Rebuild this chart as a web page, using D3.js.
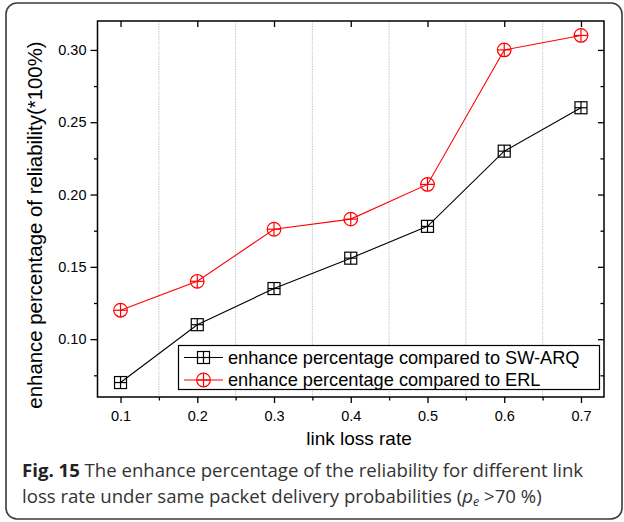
<!DOCTYPE html>
<html>
<head>
<meta charset="utf-8">
<script src="https://cdn.jsdelivr.net/npm/d3@7"></script>
<style>
  html, body { margin: 0; padding: 0; background: #fff; }
  svg { display: block; }
</style>
</head>
<body>
<svg id="chart" width="624" height="522"></svg>
<script>
const lossRates = [0.1, 0.2, 0.3, 0.4, 0.5, 0.6, 0.7];
const swArq = [0.07, 0.11, 0.135, 0.156, 0.178, 0.23, 0.26];
const erl = [0.12, 0.14, 0.176, 0.183, 0.207, 0.30, 0.31];
const xTicks = [0.1, 0.2, 0.3, 0.4, 0.5, 0.6, 0.7];
const xMinor = [0.15, 0.25, 0.35, 0.45, 0.55, 0.65];
const yTicks = [0.10, 0.15, 0.20, 0.25, 0.30];
const yMinor = [0.075, 0.125, 0.175, 0.225, 0.275];
const seriesNames = ["enhance percentage compared to SW-ARQ", "enhance percentage compared to ERL"];
const xTitle = "link loss rate";
const yTitle = "enhance percentage of reliability(*100%)";

const svg = d3.select("#chart");
const L = 97.5, R = 604, T = 21, B = 397;
const x = d3.scaleLinear().domain([0.07, 0.73]).range([L, R]);
const y = d3.scaleLinear().domain([0.06, 0.32]).range([B, T]);
const axisFont = "'Liberation Sans', Arial, sans-serif";

// outer rounded frame
svg.append("rect").attr("x", 6).attr("y", 3).attr("width", 616).attr("height", 516)
  .attr("rx", 11).attr("fill", "none").attr("stroke", "#3a3a3a").attr("stroke-width", 1.6);

// vertical grid at minor positions
svg.append("g").selectAll("line").data(xMinor).join("line")
  .attr("x1", d => x(d)).attr("x2", d => x(d)).attr("y1", T).attr("y2", B)
  .attr("stroke", "#c8c8c8").attr("stroke-width", 1).attr("stroke-dasharray", "1.5,1");

// axes
function styleAxis(g) {
  g.selectAll("path.domain").remove();
  g.selectAll(".tick line").attr("stroke", "#000").attr("stroke-width", 1.3);
  g.selectAll(".tick text").attr("font-family", axisFont).attr("font-size", 14.5).attr("fill", "#000");
}
const fmtX = d3.format(".1f"), fmtY = d3.format(".2f");

svg.append("g").attr("transform", `translate(0,${B})`)
  .call(d3.axisBottom(x).tickValues(xTicks).tickFormat(fmtX).tickSize(6).tickPadding(8)).call(styleAxis);
svg.append("g").attr("transform", `translate(0,${B})`)
  .call(d3.axisBottom(x).tickValues(xMinor).tickFormat("").tickSize(3.5)).call(styleAxis);
svg.append("g").attr("transform", `translate(0,${T})`)
  .call(d3.axisBottom(x).tickValues(xTicks).tickFormat("").tickSize(6)).call(styleAxis);

svg.append("g").attr("transform", `translate(${L},0)`)
  .call(d3.axisLeft(y).tickValues(yTicks).tickFormat(fmtY).tickSize(7).tickPadding(4)).call(styleAxis);
svg.append("g").attr("transform", `translate(${L},0)`)
  .call(d3.axisLeft(y).tickValues(yMinor).tickFormat("").tickSize(3.5)).call(styleAxis);
svg.append("g").attr("transform", `translate(${R},0)`)
  .call(d3.axisLeft(y).tickValues(yTicks).tickFormat("").tickSize(6)).call(styleAxis);
svg.append("g").attr("transform", `translate(${R},0)`)
  .call(d3.axisLeft(y).tickValues(yMinor).tickFormat("").tickSize(3.5)).call(styleAxis);

// frame
svg.append("rect").attr("x", L).attr("y", T).attr("width", R - L).attr("height", B - T)
  .attr("fill", "none").attr("stroke", "#000").attr("stroke-width", 1.5);

// markers
function squareMarker(g, cx, cy, color) {
  const s = 6;
  g.append("rect").attr("x", cx - s).attr("y", cy - s).attr("width", 2 * s).attr("height", 2 * s)
    .attr("fill", "none").attr("stroke", color).attr("stroke-width", 1.2);
  g.append("line").attr("x1", cx - s).attr("x2", cx + s).attr("y1", cy).attr("y2", cy).attr("stroke", color).attr("stroke-width", 1.2);
  g.append("line").attr("x1", cx).attr("x2", cx).attr("y1", cy - s).attr("y2", cy + s).attr("stroke", color).attr("stroke-width", 1.2);
}
function circleMarker(g, cx, cy, color) {
  const r = 6.8;
  g.append("circle").attr("cx", cx).attr("cy", cy).attr("r", r)
    .attr("fill", "none").attr("stroke", color).attr("stroke-width", 1.2);
  g.append("line").attr("x1", cx - r).attr("x2", cx + r).attr("y1", cy).attr("y2", cy).attr("stroke", color).attr("stroke-width", 1.2);
  g.append("line").attr("x1", cx).attr("x2", cx).attr("y1", cy - r).attr("y2", cy + r).attr("stroke", color).attr("stroke-width", 1.2);
}

const series = [
  { name: seriesNames[0], values: swArq, color: "#000", marker: squareMarker },
  { name: seriesNames[1], values: erl, color: "#ff0000", marker: circleMarker }
];
const line = d3.line().x((d, i) => x(lossRates[i])).y(d => y(d));

series.forEach(s => {
  svg.append("path").datum(s.values).attr("d", line)
    .attr("fill", "none").attr("stroke", s.color).attr("stroke-width", 1.1);
  const g = svg.append("g");
  s.values.forEach((v, i) => s.marker(g, x(lossRates[i]), y(v), s.color));
});

// legend
const lg = svg.append("g");
lg.append("rect").attr("x", 178.5).attr("y", 345.5).attr("width", 421).attr("height", 44)
  .attr("fill", "#fff").attr("stroke", "#000").attr("stroke-width", 1.2);
series.forEach((s, i) => {
  const cy = 357.5 + i * 22.5;
  lg.append("line").attr("x1", 184).attr("x2", 223).attr("y1", cy).attr("y2", cy)
    .attr("stroke", s.color).attr("stroke-width", 1.1);
  s.marker(lg, 203.5, cy, s.color);
  lg.append("text").attr("x", 228).attr("y", cy + 6.3).text(s.name)
    .attr("font-family", axisFont).attr("font-size", 18.2).attr("fill", "#000");
});

// axis titles
svg.append("text").attr("x", 359).attr("y", 445).attr("text-anchor", "middle")
  .attr("font-family", axisFont).attr("font-size", 19).text(xTitle);
svg.append("text").attr("transform", "translate(42,225) rotate(-90)").attr("text-anchor", "middle")
  .attr("font-family", axisFont).attr("font-size", 20.4).text(yTitle);

// caption
const capFont = "'Open Sans', 'Noto Sans', sans-serif";
const c1 = svg.append("text").attr("x", 22).attr("y", 477).attr("font-family", capFont)
  .attr("font-size", 18.6).attr("fill", "#333");
c1.append("tspan").attr("font-weight", "bold").attr("fill", "#222").text("Fig. 15");
c1.append("tspan").text(" The enhance percentage of the reliability for different link");
const c2 = svg.append("text").attr("x", 22).attr("y", 503).attr("font-family", capFont)
  .attr("font-size", 18.6).attr("fill", "#333");
c2.append("tspan").text("loss rate under same packet delivery probabilities (");
c2.append("tspan").attr("font-style", "italic").text("p");
c2.append("tspan").attr("font-style", "italic").attr("font-size", 12.5).attr("dy", 3).text("e");
c2.append("tspan").attr("dy", -3).text(" >70 %)");
</script>
</body>
</html>
